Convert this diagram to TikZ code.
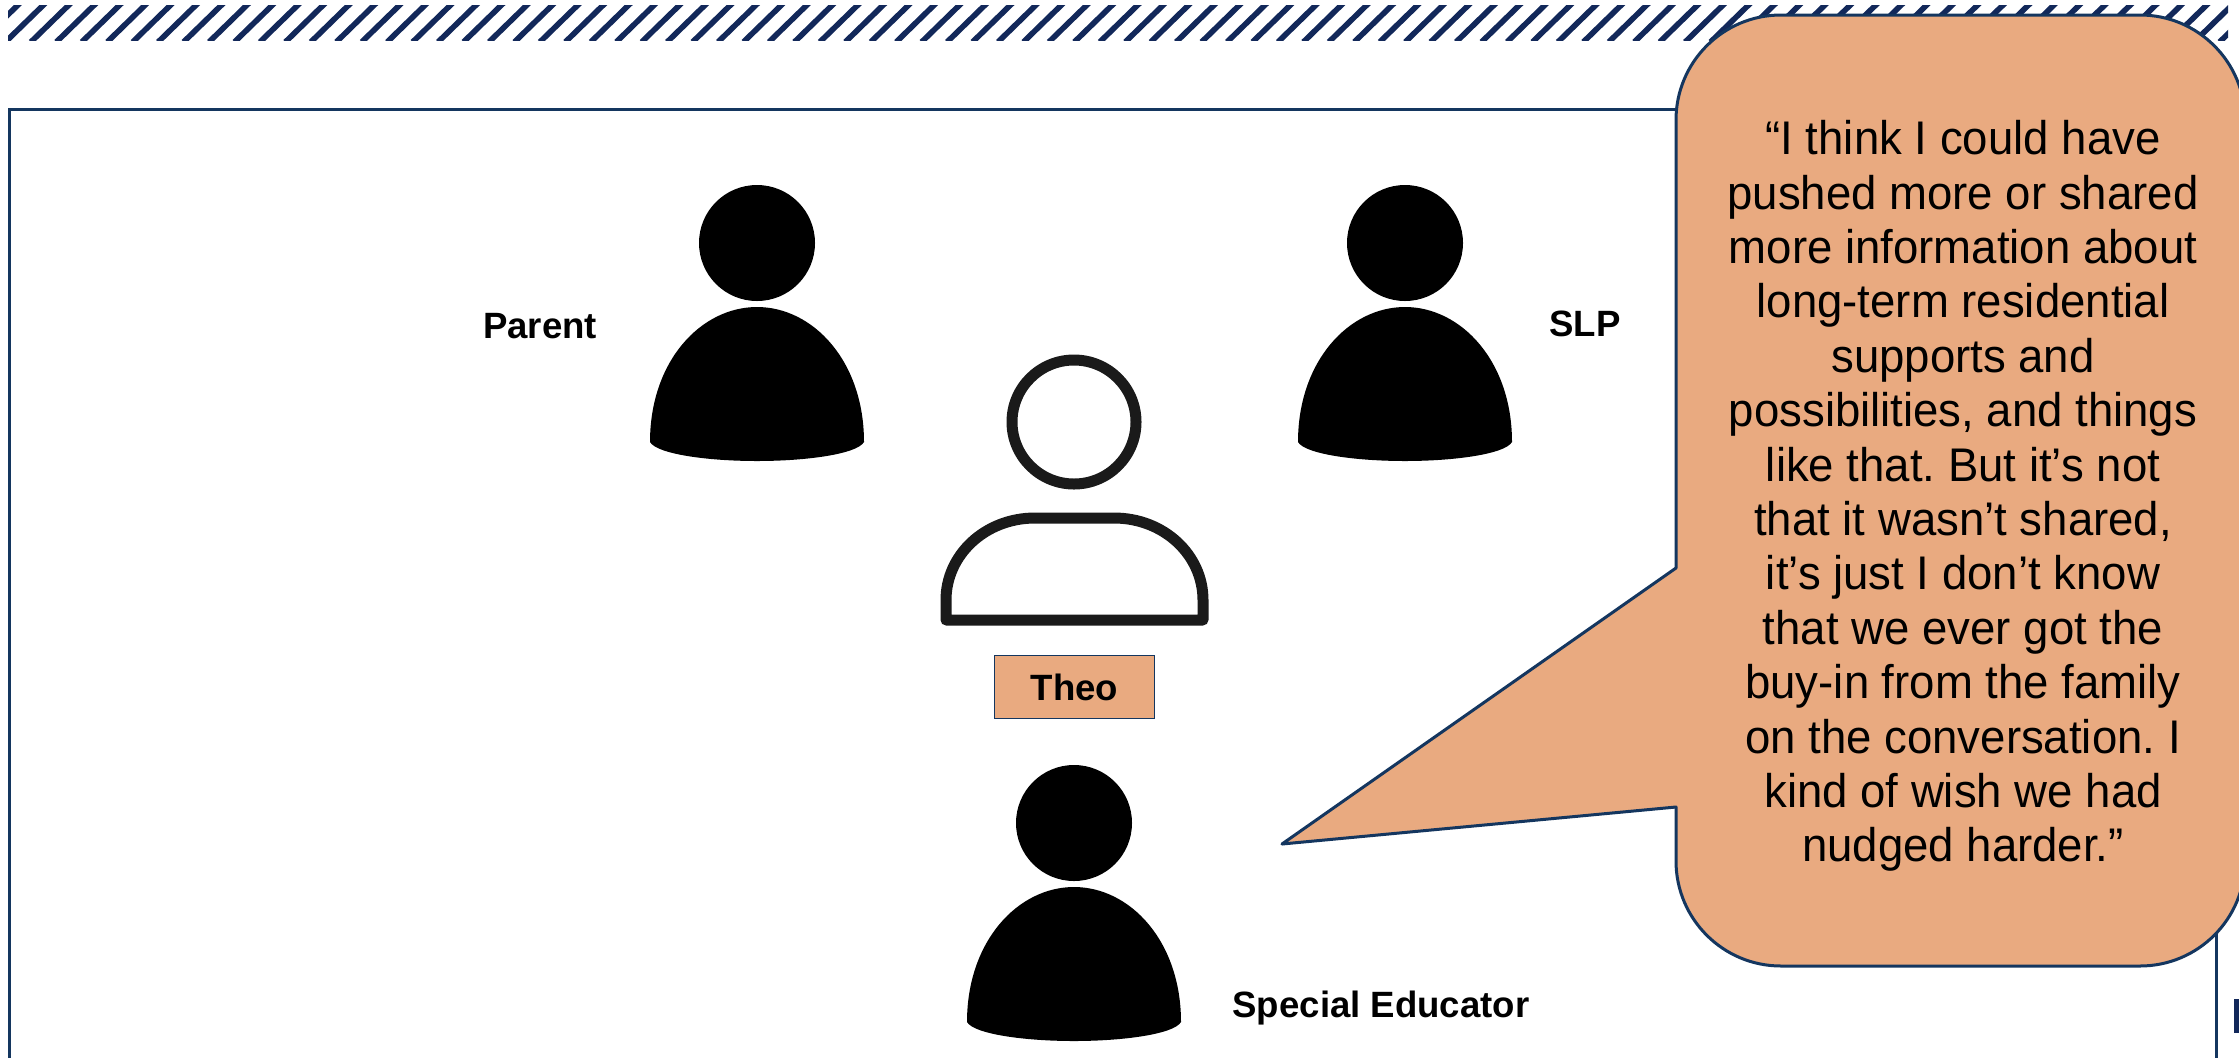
\documentclass[tikz,border=0pt]{standalone}
\usepackage{fontspec}
\setmainfont{Liberation Sans}
\newfontfamily\quotefont[FakeStretch=0.965]{Liberation Sans}
\frenchspacing
\definecolor{navy}{HTML}{12285A}
\definecolor{frameblue}{HTML}{14365F}
\definecolor{peach}{HTML}{E9AA80}
\definecolor{iconink}{HTML}{1A1A1A}
\tikzset{
  x=0.5pt,y=-0.5pt,
  stripe/.style={navy,line width=2.8pt},
  frameline/.style={frameblue,line width=1.5pt},
  peachshape/.style={fill=peach,draw=frameblue,line width=1.5pt,line join=round},
  solidicon/.style={fill=black,draw=none},
  outlineicon/.style={draw=iconink,line width=5.5pt,fill=white,line join=round},
  role/.style={font=\fontsize{18.3}{21}\selectfont\bfseries,text=black,inner sep=0pt},
  quote/.style={font=\quotefont\fontsize{23.6}{27.2}\selectfont,text=black,align=center,inner sep=0pt},
  pics/solidperson/.style={code={
    \fill[solidicon] (0,0) circle[radius=58];
    \fill[solidicon] (-107,199) .. controls (-107,118) and (-56,64) .. (0,64)
      .. controls (56,64) and (107,118) .. (107,199)
      .. controls (100,211) and (50,218) .. (0,218)
      .. controls (-50,218) and (-100,211) .. (-107,199) -- cycle;
  }}
}
\begin{document}
\begin{tikzpicture}
\useasboundingbox (0,0) rectangle (2239,1057);
\clip (0,0) rectangle (2239,1057);
\fill[white] (0,0) rectangle (2239,1057);
% hatched band
\begin{scope}
\clip (8,5) rectangle (2228,40);
\foreach \i in {0,...,90} {
  \draw[stripe] ({\i*25.45-20},42) -- ({\i*25.45+20},3);
}
\end{scope}
% frame
\draw[frameline] (9,1070) -- (9,109) -- (2216,109) -- (2216,1070);
\fill[navy] (2234,999) rectangle (2239,1033);
% people
\pic at (757,243) {solidperson};
\pic at (1405,243) {solidperson};
\pic at (1074,823) {solidperson};
\draw[outlineicon] (1074,422) circle[radius=62];
\draw[outlineicon] (946,620) -- (946,600)
  .. controls (946,555) and (985,518) .. (1035,518)
  -- (1114,518)
  .. controls (1164,518) and (1203,555) .. (1203,600)
  -- (1203,620) -- cycle;
% labels
\node[role] (parent) at (540,326) {Parent};
\node[role] (slp) at (1585,324) {SLP};
\node[role] (educator) at (1381,1008) {Special Educator};
\node[role,draw=frameblue,line width=0.9pt,fill=peach,minimum width=80pt,minimum height=31.5pt] (theo) at (1074.5,687) {\raisebox{-0.5pt}{Theo}};
% speech bubble
\draw[peachshape] (1781,15) -- (2140,15)
  arc[start angle=-90,end angle=0,radius=105] -- (2245,861)
  arc[start angle=0,end angle=90,radius=105] -- (1781,966)
  arc[start angle=90,end angle=180,radius=105] -- (1676,807)
  -- (1282,844) -- (1676,568) -- (1676,120)
  arc[start angle=180,end angle=270,radius=105] -- cycle;
\node[quote] (quotetext) at (1963,496) {“I think I could have\\pushed more or shared\\more information about\\long-term residential\\supports and\\possibilities, and things\\like that. But it’s not\\that it wasn’t shared,\\it’s just I don’t know\\that we ever got the\\buy-in from the family\\on the conversation. I\\kind of wish we had\\nudged harder.”};
\end{tikzpicture}
\end{document}
